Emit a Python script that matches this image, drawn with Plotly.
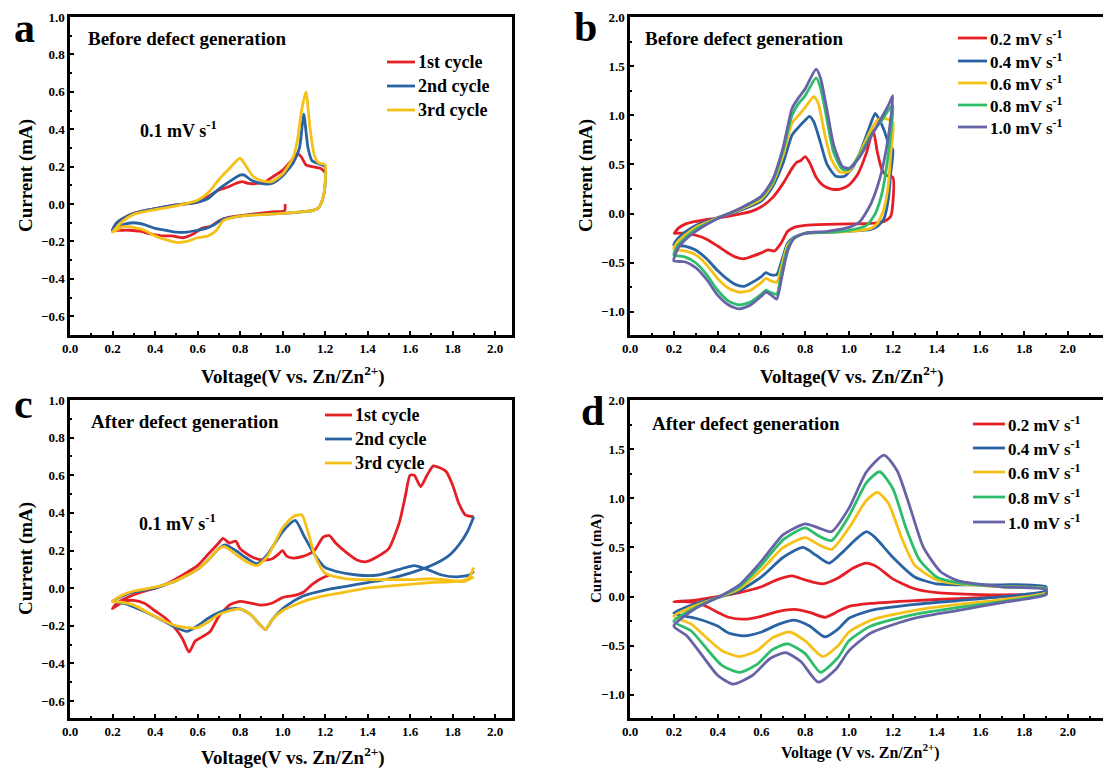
import plotly.graph_objects as go

# ---------------- data (voltage V, current mA) ----------------
# Panel a: before defect generation, 0.1 mV/s, cycles
A1_V = [1.012,1.01,0.95,0.85,0.75,0.70,0.66,0.62,0.58,0.53,0.48,0.43,0.38,0.33,0.28,0.24,0.20,0.22,0.26,0.30,0.35,0.40,0.50,0.60,0.65,0.70,0.74,0.78,0.81,0.84,0.88,0.92,0.96,1.00,1.04,1.07,1.09,1.11,1.14,1.18,1.20]
A1_I = [0.0,-0.035,-0.042,-0.055,-0.07,-0.09,-0.12,-0.13,-0.16,-0.18,-0.17,-0.17,-0.16,-0.145,-0.14,-0.14,-0.14,-0.10,-0.07,-0.05,-0.035,-0.025,-0.005,0.01,0.04,0.075,0.09,0.11,0.12,0.11,0.11,0.12,0.15,0.18,0.23,0.27,0.25,0.21,0.20,0.19,0.17]
A2_V = [1.20,1.20,1.19,1.17,1.14,1.10,1.00,0.90,0.80,0.72,0.68,0.64,0.60,0.55,0.50,0.45,0.40,0.35,0.30,0.25,0.20,0.22,0.26,0.30,0.40,0.50,0.60,0.65,0.70,0.75,0.80,0.82,0.85,0.90,0.95,1.00,1.05,1.08,1.10,1.12,1.14,1.20]
A2_I = [0.20,0.10,0.03,-0.02,-0.035,-0.04,-0.05,-0.055,-0.065,-0.08,-0.11,-0.13,-0.14,-0.15,-0.15,-0.14,-0.13,-0.11,-0.10,-0.11,-0.14,-0.10,-0.07,-0.05,-0.025,-0.005,0.01,0.03,0.08,0.12,0.155,0.155,0.13,0.11,0.11,0.15,0.22,0.30,0.48,0.30,0.23,0.20]
A3_V = [1.20,1.20,1.19,1.17,1.14,1.10,1.00,0.80,0.72,0.69,0.65,0.60,0.55,0.50,0.45,0.40,0.35,0.30,0.25,0.20,0.25,0.30,0.40,0.50,0.60,0.65,0.70,0.75,0.80,0.83,0.86,0.90,0.95,1.00,1.05,1.07,1.09,1.11,1.13,1.15,1.17,1.20]
A3_I = [0.21,0.10,0.03,-0.02,-0.035,-0.04,-0.05,-0.065,-0.09,-0.14,-0.17,-0.18,-0.20,-0.205,-0.19,-0.17,-0.14,-0.125,-0.12,-0.15,-0.09,-0.055,-0.03,-0.01,0.02,0.06,0.13,0.19,0.245,0.20,0.15,0.125,0.12,0.16,0.25,0.34,0.50,0.60,0.40,0.26,0.22,0.21]

# Panel b: before defect generation, scan rates
B1_V = [0.20,0.22,0.25,0.30,0.40,0.50,0.55,0.60,0.65,0.70,0.74,0.76,0.78,0.80,0.82,0.85,0.88,0.92,0.96,1.00,1.04,1.08,1.11,1.13,1.15,1.17,1.20,1.20,1.19,1.16,1.10,1.00,0.90,0.80,0.75,0.72,0.69,0.66,0.63,0.60,0.55,0.52,0.48,0.44,0.40,0.35,0.30,0.25,0.20]
B1_I = [-0.21,-0.15,-0.11,-0.08,-0.045,-0.005,0.02,0.07,0.16,0.31,0.46,0.52,0.54,0.58,0.52,0.37,0.29,0.25,0.25,0.29,0.40,0.62,0.85,0.62,0.45,0.39,0.37,0.10,-0.03,-0.08,-0.10,-0.105,-0.11,-0.12,-0.14,-0.18,-0.30,-0.38,-0.37,-0.40,-0.44,-0.46,-0.44,-0.39,-0.33,-0.26,-0.22,-0.20,-0.20]
B2_V = [0.20,0.22,0.25,0.30,0.40,0.50,0.60,0.65,0.70,0.74,0.77,0.80,0.82,0.84,0.87,0.90,0.94,0.98,1.02,1.06,1.10,1.12,1.14,1.16,1.18,1.20,1.19,1.18,1.16,1.13,1.10,1.00,0.90,0.80,0.75,0.72,0.69,0.67,0.64,0.62,0.60,0.55,0.52,0.48,0.44,0.40,0.35,0.30,0.25,0.20]
B2_I = [-0.32,-0.25,-0.19,-0.12,-0.04,0.03,0.13,0.27,0.52,0.80,0.88,0.95,0.99,0.93,0.72,0.50,0.38,0.38,0.48,0.68,0.92,1.02,0.95,0.85,0.72,0.65,0.40,0.15,-0.05,-0.13,-0.16,-0.18,-0.19,-0.20,-0.24,-0.30,-0.50,-0.62,-0.62,-0.60,-0.64,-0.71,-0.74,-0.72,-0.66,-0.58,-0.46,-0.37,-0.33,-0.32]
B3_V = [0.20,0.22,0.25,0.30,0.40,0.50,0.60,0.65,0.70,0.74,0.77,0.80,0.84,0.86,0.89,0.92,0.96,1.00,1.05,1.10,1.13,1.16,1.20,1.19,1.18,1.16,1.13,1.10,1.00,0.90,0.80,0.75,0.72,0.69,0.67,0.64,0.62,0.60,0.55,0.50,0.45,0.40,0.35,0.30,0.25,0.20]
B3_I = [-0.36,-0.28,-0.22,-0.14,-0.045,0.04,0.15,0.30,0.60,0.92,1.00,1.08,1.19,1.12,0.80,0.55,0.42,0.43,0.62,0.85,0.95,0.97,0.93,0.60,0.30,0.05,-0.10,-0.15,-0.18,-0.19,-0.20,-0.25,-0.32,-0.55,-0.70,-0.68,-0.66,-0.70,-0.78,-0.80,-0.76,-0.66,-0.52,-0.42,-0.38,-0.36]
B4_V = [0.20,0.22,0.25,0.30,0.40,0.50,0.60,0.65,0.70,0.74,0.77,0.80,0.85,0.87,0.90,0.93,0.97,1.00,1.05,1.10,1.15,1.18,1.20,1.20,1.19,1.17,1.15,1.12,1.08,1.00,0.90,0.80,0.75,0.72,0.69,0.67,0.64,0.62,0.60,0.55,0.50,0.45,0.40,0.35,0.30,0.25,0.20]
B4_I = [-0.42,-0.32,-0.25,-0.16,-0.05,0.05,0.17,0.32,0.65,1.00,1.12,1.20,1.38,1.28,0.95,0.62,0.45,0.45,0.60,0.80,0.95,1.05,1.10,1.05,0.80,0.45,0.20,0.00,-0.12,-0.17,-0.19,-0.20,-0.25,-0.35,-0.62,-0.82,-0.80,-0.78,-0.82,-0.90,-0.93,-0.89,-0.78,-0.62,-0.50,-0.44,-0.42]
B5_V = [0.20,0.22,0.25,0.30,0.40,0.50,0.60,0.65,0.70,0.74,0.77,0.80,0.85,0.87,0.90,0.93,0.97,1.00,1.05,1.10,1.15,1.18,1.20,1.19,1.17,1.14,1.10,1.05,1.00,0.90,0.80,0.75,0.72,0.69,0.67,0.64,0.62,0.60,0.55,0.50,0.45,0.40,0.35,0.30,0.25,0.20]
B5_I = [-0.48,-0.35,-0.27,-0.18,-0.05,0.05,0.18,0.34,0.68,1.07,1.18,1.27,1.47,1.38,1.05,0.70,0.48,0.46,0.58,0.78,0.98,1.10,1.20,0.95,0.65,0.35,0.10,-0.08,-0.14,-0.18,-0.20,-0.25,-0.38,-0.68,-0.87,-0.82,-0.80,-0.84,-0.93,-0.97,-0.93,-0.83,-0.67,-0.55,-0.49,-0.48]

# Panel c: after defect generation, 0.1 mV/s, cycles
C1_V = [1.22,1.18,1.14,1.10,1.05,1.00,0.95,0.90,0.85,0.80,0.75,0.70,0.66,0.62,0.59,0.56,0.53,0.50,0.45,0.40,0.35,0.30,0.25,0.20,0.22,0.30,0.40,0.45,0.50,0.60,0.65,0.70,0.72,0.75,0.78,0.80,0.85,0.90,0.95,0.98,1.00,1.02,1.05,1.10,1.15,1.19,1.22,1.25,1.30,1.35,1.39,1.45,1.50,1.55,1.58,1.60,1.62,1.65,1.68,1.71,1.74,1.77,1.80,1.83,1.86,1.90]
C1_I = [0.07,0.05,0.02,-0.02,-0.04,-0.05,-0.08,-0.09,-0.08,-0.07,-0.09,-0.15,-0.23,-0.26,-0.28,-0.34,-0.27,-0.22,-0.16,-0.12,-0.08,-0.065,-0.07,-0.11,-0.08,-0.035,0.0,0.02,0.05,0.12,0.18,0.24,0.265,0.24,0.25,0.21,0.17,0.15,0.155,0.18,0.20,0.17,0.16,0.17,0.20,0.27,0.28,0.24,0.19,0.15,0.14,0.17,0.21,0.35,0.50,0.60,0.60,0.54,0.60,0.65,0.64,0.62,0.55,0.45,0.39,0.38]
C2_V = [1.90,1.87,1.83,1.78,1.70,1.60,1.50,1.40,1.30,1.20,1.10,1.05,1.00,0.95,0.92,0.89,0.85,0.80,0.75,0.70,0.65,0.60,0.55,0.50,0.40,0.30,0.25,0.20,0.25,0.30,0.40,0.45,0.50,0.60,0.65,0.70,0.73,0.78,0.83,0.88,0.93,1.00,1.06,1.10,1.15,1.20,1.25,1.35,1.45,1.55,1.62,1.68,1.75,1.82,1.88,1.90]
C2_I = [0.38,0.30,0.23,0.17,0.12,0.08,0.05,0.03,0.01,-0.01,-0.04,-0.07,-0.11,-0.17,-0.22,-0.19,-0.14,-0.11,-0.11,-0.13,-0.16,-0.20,-0.23,-0.21,-0.15,-0.10,-0.08,-0.07,-0.04,-0.02,0.0,0.02,0.04,0.10,0.15,0.21,0.23,0.20,0.16,0.13,0.18,0.30,0.36,0.28,0.18,0.11,0.09,0.07,0.07,0.10,0.12,0.10,0.07,0.06,0.07,0.09]
C3_V = [1.90,1.88,1.85,1.70,1.60,1.40,1.30,1.20,1.10,1.00,0.95,0.92,0.89,0.85,0.80,0.75,0.70,0.65,0.60,0.55,0.50,0.40,0.30,0.25,0.20,0.25,0.30,0.40,0.45,0.50,0.60,0.65,0.70,0.73,0.78,0.83,0.88,0.93,1.00,1.05,1.09,1.12,1.15,1.20,1.30,1.40,1.50,1.60,1.70,1.80,1.85,1.90]
C3_I = [0.11,0.06,0.04,0.03,0.02,0.0,-0.02,-0.04,-0.07,-0.12,-0.17,-0.22,-0.19,-0.14,-0.11,-0.12,-0.14,-0.18,-0.21,-0.21,-0.20,-0.15,-0.09,-0.075,-0.07,-0.035,-0.015,0.005,0.02,0.04,0.10,0.15,0.21,0.22,0.18,0.14,0.12,0.17,0.32,0.38,0.39,0.30,0.18,0.08,0.05,0.045,0.045,0.045,0.05,0.04,0.035,0.06]

# Panel d: after defect generation, scan rates
D1_V = [0.20,0.30,0.40,0.50,0.60,0.67,0.74,0.80,0.88,0.95,1.02,1.08,1.13,1.20,1.30,1.40,1.60,1.80,1.90,1.90,1.70,1.50,1.30,1.10,1.00,0.95,0.89,0.82,0.75,0.68,0.60,0.52,0.45,0.40,0.35,0.30,0.25,0.20]
D1_I = [-0.05,-0.035,0.00,0.04,0.10,0.17,0.21,0.17,0.13,0.19,0.29,0.34,0.30,0.18,0.08,0.04,0.02,0.02,0.03,0.02,0.00,-0.02,-0.04,-0.07,-0.10,-0.15,-0.21,-0.16,-0.13,-0.15,-0.20,-0.23,-0.21,-0.16,-0.10,-0.06,-0.05,-0.05]
D2_V = [0.20,0.30,0.40,0.50,0.60,0.70,0.79,0.85,0.91,0.97,1.03,1.08,1.12,1.20,1.30,1.40,1.50,1.70,1.80,1.90,1.90,1.70,1.50,1.30,1.10,1.00,0.95,0.89,0.82,0.75,0.68,0.60,0.52,0.45,0.40,0.30,0.20]
D2_I = [-0.17,-0.07,-0.01,0.06,0.20,0.40,0.50,0.42,0.34,0.45,0.58,0.66,0.60,0.40,0.20,0.13,0.12,0.12,0.12,0.10,0.06,0.00,-0.04,-0.08,-0.14,-0.22,-0.33,-0.41,-0.30,-0.24,-0.28,-0.36,-0.40,-0.37,-0.30,-0.22,-0.17]
D3_V = [0.20,0.30,0.40,0.50,0.60,0.70,0.80,0.86,0.92,1.00,1.08,1.13,1.18,1.24,1.30,1.40,1.50,1.70,1.90,1.90,1.70,1.50,1.30,1.10,1.00,0.95,0.88,0.80,0.73,0.65,0.58,0.50,0.42,0.35,0.28,0.20]
D3_I = [-0.20,-0.09,-0.01,0.08,0.27,0.50,0.60,0.53,0.48,0.70,0.98,1.06,0.95,0.60,0.32,0.17,0.13,0.10,0.08,0.04,-0.03,-0.08,-0.14,-0.24,-0.36,-0.50,-0.61,-0.45,-0.36,-0.42,-0.55,-0.61,-0.55,-0.42,-0.28,-0.20]
D4_V = [0.20,0.30,0.40,0.50,0.60,0.70,0.80,0.86,0.92,1.00,1.08,1.14,1.20,1.26,1.32,1.40,1.50,1.70,1.90,1.90,1.70,1.50,1.30,1.10,1.00,0.95,0.87,0.80,0.72,0.65,0.58,0.50,0.42,0.35,0.28,0.20]
D4_I = [-0.25,-0.11,-0.01,0.10,0.32,0.58,0.70,0.62,0.57,0.82,1.16,1.27,1.10,0.70,0.38,0.20,0.14,0.10,0.08,0.03,-0.05,-0.11,-0.18,-0.30,-0.45,-0.62,-0.77,-0.58,-0.48,-0.54,-0.69,-0.77,-0.70,-0.53,-0.35,-0.25]
D5_V = [0.20,0.30,0.40,0.50,0.60,0.70,0.80,0.86,0.92,1.00,1.08,1.16,1.22,1.28,1.34,1.42,1.50,1.70,1.90,1.90,1.70,1.50,1.30,1.10,1.00,0.94,0.86,0.78,0.71,0.64,0.56,0.47,0.40,0.33,0.26,0.20]
D5_I = [-0.30,-0.12,-0.01,0.12,0.36,0.63,0.74,0.70,0.66,0.90,1.27,1.44,1.28,0.90,0.50,0.25,0.16,0.10,0.07,0.02,-0.06,-0.14,-0.22,-0.37,-0.55,-0.74,-0.87,-0.66,-0.57,-0.63,-0.80,-0.89,-0.80,-0.60,-0.40,-0.30]

CYCLE_NAMES = ["1st cycle", "2nd cycle", "3rd cycle"]
RATE_NAMES = ["0.2 mV s<sup>-1</sup>", "0.4 mV s<sup>-1</sup>", "0.6 mV s<sup>-1</sup>",
              "0.8 mV s<sup>-1</sup>", "1.0 mV s<sup>-1</sup>"]

COLORS = ["#E41F26", "#2A63A3", "#F5C118", "#2EBD6B", "#6663A6"]
FONT = "Liberation Serif"
W, H = 1103, 770

panels = {
    "a": ([(A1_V, A1_I), (A2_V, A2_I), (A3_V, A3_I)], CYCLE_NAMES),
    "b": ([(B1_V, B1_I), (B2_V, B2_I), (B3_V, B3_I), (B4_V, B4_I), (B5_V, B5_I)], RATE_NAMES),
    "c": ([(C1_V, C1_I), (C2_V, C2_I), (C3_V, C3_I)], CYCLE_NAMES),
    "d": ([(D1_V, D1_I), (D2_V, D2_I), (D3_V, D3_I), (D4_V, D4_I), (D5_V, D5_I)], RATE_NAMES),
}
axis_ids = {"a": ("x", "y"), "b": ("x2", "y2"), "c": ("x3", "y3"), "d": ("x4", "y4")}

fig = go.Figure()
for key, (curves, names) in panels.items():
    xa, ya = axis_ids[key]
    for k, ((v, i), nm) in enumerate(zip(curves, names)):
        assert len(v) == len(i), (key, k, len(v), len(i))
        fig.add_trace(go.Scatter(
            x=v, y=i, mode="lines", name=nm, xaxis=xa, yaxis=ya, showlegend=False,
            line=dict(color=COLORS[k], width=2.8, shape="spline", smoothing=0.6),
        ))

def px_x(p):
    return p / W

def px_y(p):
    return 1 - p / H

tickfont = dict(family="Liberation Serif", size=13, color="#000000", weight=700)

def axis(dom, rng, dtick, minor, anchor):
    return dict(domain=dom, range=rng, anchor=anchor,
                tickmode="linear", tick0=0, dtick=dtick, tickformat=".1f",
                ticks="inside", ticklen=4, tickwidth=2, tickcolor="black",
                minor=dict(tickmode="linear", tick0=0, dtick=minor, ticks="inside",
                           ticklen=2, tickwidth=2, tickcolor="black", showgrid=False),
                showline=True, linewidth=2.5, linecolor="black", mirror=True,
                showgrid=False, zeroline=False, tickfont=tickfont, automargin=False)

top_dom = [px_y(335), px_y(17)]
bot_dom = [px_y(718), px_y(400)]
left_dom = [px_x(70), px_x(512)]
right_dom = [px_x(630), 1.0]

fig.update_layout(
    width=W, height=H, margin=dict(l=0, r=0, t=0, b=0, autoexpand=False),
    paper_bgcolor="white", plot_bgcolor="white", showlegend=False,
    font=dict(family=FONT, color="black"),
    xaxis=axis(left_dom, [0, 2.08], 0.2, 0.1, "y"),
    yaxis=axis(top_dom, [-0.7, 1.0], 0.2, 0.1, "x"),
    xaxis2=axis(right_dom, [0, 2.16], 0.2, 0.1, "y2"),
    yaxis2=axis(top_dom, [-1.235, 2.0], 0.5, 0.25, "x2"),
    xaxis3=axis(left_dom, [0, 2.08], 0.2, 0.1, "y3"),
    yaxis3=axis(bot_dom, [-0.69, 1.0], 0.2, 0.1, "x3"),
    xaxis4=axis(right_dom, [0, 2.16], 0.2, 0.1, "y4"),
    yaxis4=axis(bot_dom, [-1.235, 2.0], 0.5, 0.25, "x4"),
)

def ann(text, xp, yp, size, xanchor="left", angle=0):
    fig.add_annotation(text=text, x=px_x(xp), y=px_y(yp), xref="paper", yref="paper",
                       xanchor=xanchor, yanchor="middle", showarrow=False, textangle=angle,
                       borderpad=0, font=dict(family=FONT, size=size, color="black", weight="bold"))

# legends (line sample + label), positioned in pixels
def legend(names, x0, x1, ys, size):
    for k, (nm, yy) in enumerate(zip(names, ys)):
        fig.add_shape(type="line", xref="paper", yref="paper",
                      x0=px_x(x0), x1=px_x(x1), y0=px_y(yy), y1=px_y(yy),
                      line=dict(color=COLORS[k], width=2.8))
        ann(nm, x1 + 2, yy, size)

legend(CYCLE_NAMES, 387, 415, [62, 86, 110], 18)
legend(RATE_NAMES, 958, 987, [38, 61, 83, 105, 127], 17)
legend(CYCLE_NAMES, 325, 352, [415, 439, 463], 18)
legend(RATE_NAMES, 973, 1005, [424, 448, 472, 497, 522], 17)

# panel letters
ann("a", 13, 28, 42)
ann("b", 573, 27, 42)
ann("c", 13, 404, 42)
ann("d", 580, 411, 42)

# inner labels
ann("Before defect generation", 87, 38, 19)
ann("0.1 mV s<sup>-1</sup>", 139, 129, 18)
ann("Before defect generation", 644, 38, 19)
ann("After defect generation", 90, 422, 19)
ann("0.1 mV s<sup>-1</sup>", 138, 522, 18)
ann("After defect generation", 651, 424, 19)

# axis titles
ann("Current (mA)", 26, 176, 19, xanchor="center", angle=-90)
ann("Current (mA)", 586, 176, 19, xanchor="center", angle=-90)
ann("Current (mA)", 26, 559, 19, xanchor="center", angle=-90)
ann("Current (mA)", 596, 559, 15, xanchor="center", angle=-90)
ann("Voltage(V vs. Zn/Zn<sup>2+</sup>)", 293, 376, 19, xanchor="center")
ann("Voltage(V vs. Zn/Zn<sup>2+</sup>)", 852, 376, 19, xanchor="center")
ann("Voltage(V vs. Zn/Zn<sup>2+</sup>)", 293, 756, 19, xanchor="center")
ann("Voltage (V vs. Zn/Zn<sup>2+</sup>)", 860, 751, 16, xanchor="center")

fig.write_html("out.html")
